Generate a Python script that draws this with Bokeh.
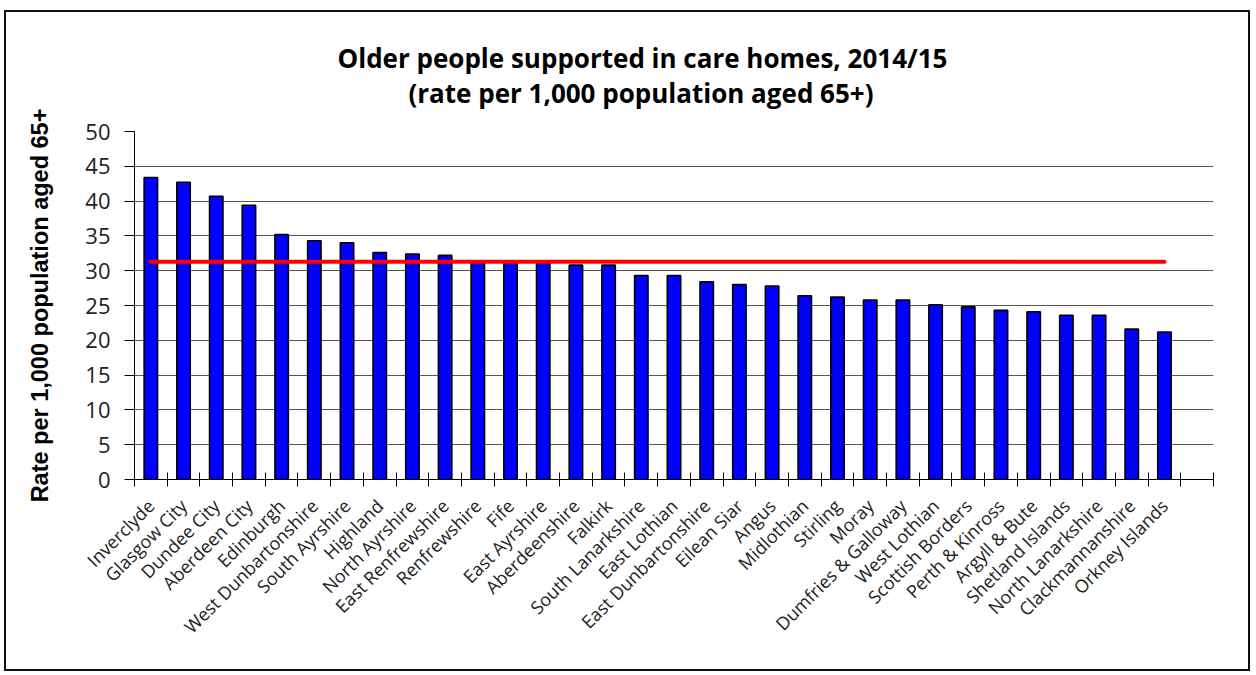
import math
from bokeh.plotting import figure
from bokeh.models import FixedTicker, Title, Range1d
from bokeh.embed import file_html
from bokeh.resources import INLINE

councils = [
    "Inverclyde", "Glasgow City", "Dundee City", "Aberdeen City", "Edinburgh",
    "West Dunbartonshire", "South Ayrshire", "Highland", "North Ayrshire",
    "East Renfrewshire", "Renfrewshire", "Fife", "East Ayrshire", "Aberdeenshire",
    "Falkirk", "South Lanarkshire", "East Lothian", "East Dunbartonshire",
    "Eilean Siar", "Angus", "Midlothian", "Stirling", "Moray",
    "Dumfries & Galloway", "West Lothian", "Scottish Borders", "Perth & Kinross",
    "Argyll & Bute", "Shetland Islands", "North Lanarkshire", "Clackmannanshire",
    "Orkney Islands",
]
rates = [
    43.4, 42.7, 40.7, 39.4, 35.2,
    34.3, 34.0, 32.6, 32.4,
    32.2, 31.3, 31.2, 31.1, 30.8,
    30.8, 29.3, 29.3, 28.4,
    28.0, 27.8, 26.4, 26.2, 25.8,
    25.8, 25.1, 24.8, 24.3,
    24.1, 23.6, 23.6, 21.6,
    21.2,
]
scotland_rate = 31.3
y_ticks = [0, 5, 10, 15, 20, 25, 30, 35, 40, 45, 50]

title_1 = "Older people supported in care homes, 2014/15"
title_2 = "(rate per 1,000 population aged 65+)"
y_title = "Rate per 1,000 population aged 65+"

n = len(councils)
centers = [i + 0.5 for i in range(n)]
slots = n + 1

p = figure(
    width=1246, height=661,
    x_range=Range1d(0, slots), y_range=Range1d(0, 50),
    output_backend="svg", toolbar_location=None,
    min_border_left=128, min_border_right=39,
    min_border_top=119, min_border_bottom=194,
)
p.styles = {"border": "2px solid #111", "margin-left": "4px", "margin-top": "10px"}
p.outline_line_color = None
p.background_fill_color = "white"
p.border_fill_color = "white"

p.vbar(x=centers, top=rates, width=0.41, bottom=0,
       fill_color="#0000FF", line_color="black", line_width=1.6)
p.line(x=[centers[0], centers[-1]], y=[scotland_rate, scotland_rate],
       line_color="#FF0000", line_width=4, line_cap="round")

# x axis
xa = p.xaxis[0]
xa.ticker = FixedTicker(ticks=centers, minor_ticks=list(range(slots + 1)))
xa.major_label_overrides = {c: name for c, name in zip(centers, councils)}
xa.major_label_orientation = math.pi / 4
xa.major_tick_in = 0
xa.major_tick_out = 0
xa.minor_tick_in = 7
xa.minor_tick_out = 7
xa.minor_tick_line_color = "black"
xa.axis_line_color = "black"
xa.major_label_text_font = "Open Sans"
xa.major_label_text_font_size = "18px"
xa.major_label_text_color = "#222222"
xa.major_label_standoff = 16

# y axis
ya = p.yaxis[0]
ya.ticker = FixedTicker(ticks=y_ticks)
ya.major_tick_in = 0
ya.major_tick_out = 10
ya.minor_tick_line_color = None
ya.axis_line_color = "black"
ya.major_tick_line_color = "black"
ya.major_label_text_font = "Open Sans"
ya.major_label_text_font_size = "22px"
ya.major_label_text_color = "#222222"
ya.major_label_standoff = 14
ya.axis_label = y_title
ya.axis_label_text_font = "Liberation Sans"
ya.axis_label_text_font_style = "bold"
ya.axis_label_text_font_size = "23.5px"
ya.axis_label_text_color = "black"
ya.axis_label_standoff = 29

p.xgrid.grid_line_color = None
p.ygrid.grid_line_color = "#555555"
p.ygrid.grid_line_width = 1

p.add_layout(Title(text=title_2, align="left", offset=274, standoff=42,
                   text_font="Open Sans", text_font_style="bold",
                   text_line_height=1.0,
                   text_font_size="26px", text_color="black"), "above")
p.add_layout(Title(text=title_1, align="left", offset=203, standoff=-48,
                   text_font="Open Sans", text_font_style="bold",
                   text_line_height=1.0,
                   text_font_size="26px", text_color="black"), "above")

open("out.html", "w").write(file_html(p, INLINE))
